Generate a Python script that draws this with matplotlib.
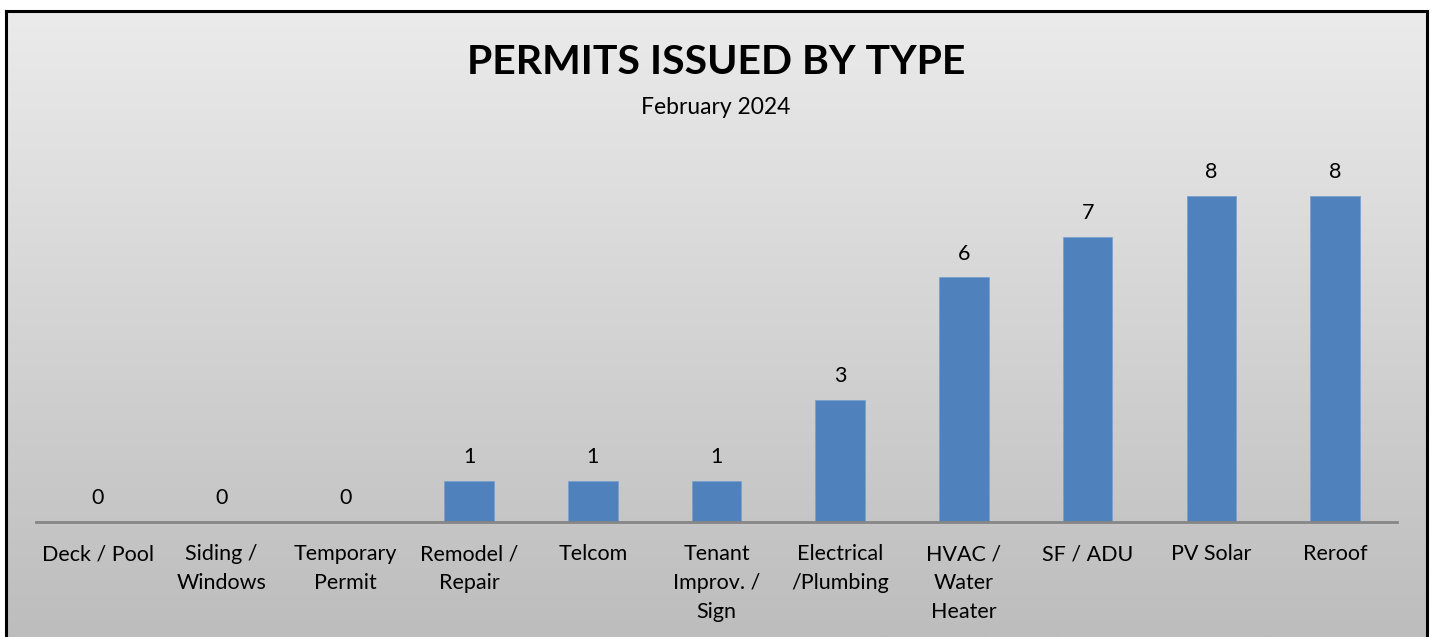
import numpy as np
import matplotlib
matplotlib.use("Agg")
import matplotlib.pyplot as plt
from matplotlib.colors import LinearSegmentedColormap

categories = ["Deck / Pool", "Siding /\nWindows", "Temporary\nPermit", "Remodel /\nRepair",
              "Telcom", "Tenant\nImprov. /\nSign", "Electrical\n/Plumbing", "HVAC /\nWater\nHeater",
              "SF / ADU", "PV Solar", "Reroof"]
values = [0, 0, 0, 1, 1, 1, 3, 6, 7, 8, 8]
title = "PERMITS ISSUED BY TYPE"
subtitle = "February 2024"

W, H = 1435, 637
plt.rcParams['font.family'] = ['Lato', 'DejaVu Sans']
fig = plt.figure(figsize=(W / 100, H / 100), dpi=100)
fig.patch.set_facecolor('white')

# background gradient frame
bg = fig.add_axes([6 / W, 0, (1427 - 6) / W, (H - 11) / H])
grad = np.linspace(0, 1, 256).reshape(-1, 1)
cmap = LinearSegmentedColormap.from_list('g', ['#ebebeb', '#bdbdbd'])
bg.imshow(grad, aspect='auto', cmap=cmap, extent=[0, 1, 1, 0])
bg.set_xlim(0, 1); bg.set_ylim(1, 0)
bg.set_xticks([]); bg.set_yticks([])
for s in bg.spines.values():
    s.set_color('black'); s.set_linewidth(2.2)
bg.spines['bottom'].set_visible(False)
bg.set_zorder(0)

# main axes
ax_left, ax_right = 36 / W, 1397 / W
base_y, top_y = 522, 130
ax = fig.add_axes([ax_left, (H - base_y) / H, ax_right - ax_left, (base_y - top_y) / H])
ax.set_zorder(1)
ax.patch.set_alpha(0)
x = np.arange(len(categories))
ax.bar(x, values, width=0.40, color='#4f81bd', edgecolor='#7aa0cf', linewidth=0.6, zorder=2)
ax.set_xlim(-0.5, len(categories) - 0.5)
ax.set_ylim(0, (base_y - top_y) / 40.75)
for xi, v in zip(x, values):
    ax.annotate(str(v), (xi, v), xytext=(0, 10), textcoords='offset points',
                ha='center', va='bottom', fontsize=15.5, color='black')
ax.set_yticks([])
ax.set_xticks(x)
ax.set_xticklabels(categories, fontsize=15.5, linespacing=1.55, va='top')
ax.tick_params(axis='x', length=0, pad=16)
for s in ['top', 'right', 'left']:
    ax.spines[s].set_visible(False)
ax.spines['bottom'].set_color('#868686')
ax.spines['bottom'].set_linewidth(2)

fig.text(716 / W, 1 - 63 / H, title, ha='center', va='center', fontsize=29.5, fontweight='bold')
fig.text(716 / W, 1 - 107 / H, subtitle, ha='center', va='center', fontsize=16.5)

fig.savefig('out.png', dpi=100)
